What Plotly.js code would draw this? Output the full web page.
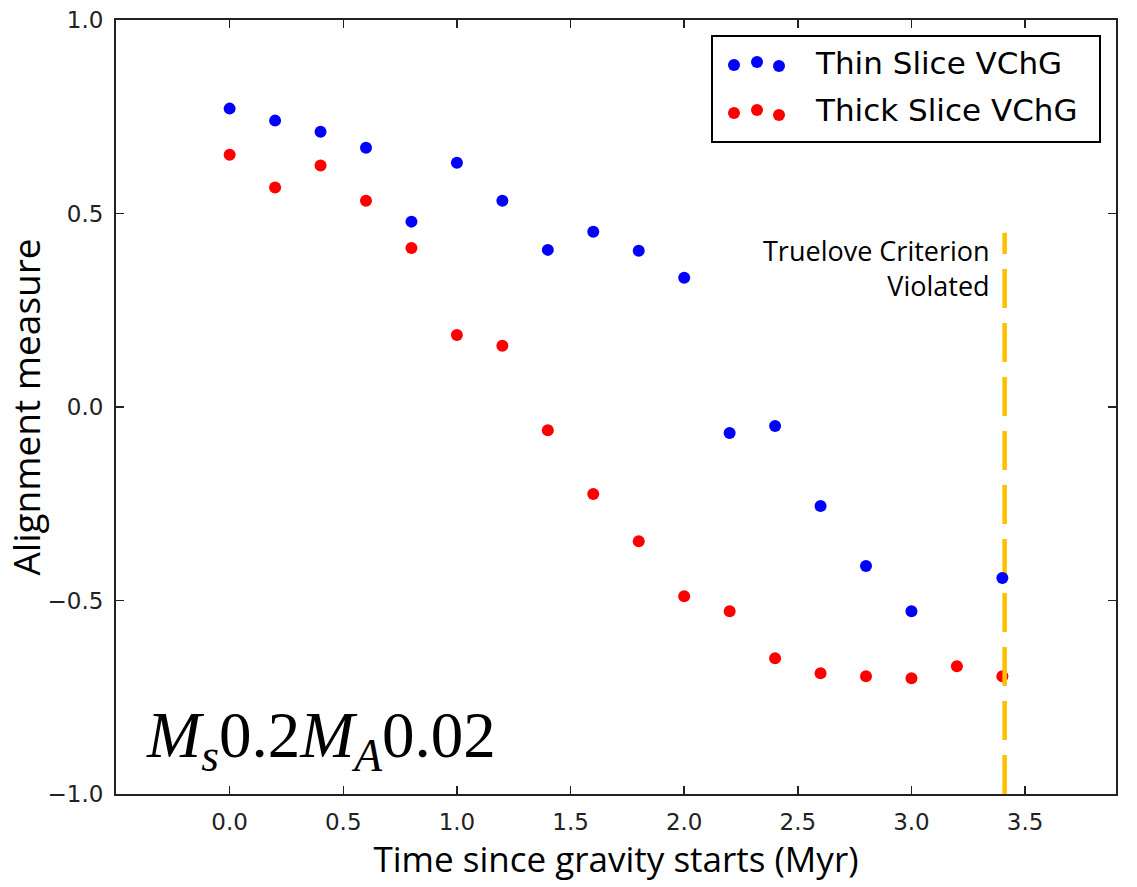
<!DOCTYPE html>
<html>
<head>
<meta charset="utf-8">
<script src="https://cdn.plot.ly/plotly-3.0.1.min.js"></script>
<style>html,body{margin:0;padding:0;background:#fff;}#chart{width:1137px;height:887px;}</style>
</head>
<body>
<div id="chart"></div>
<script>
// Data
var thinX = [0.0, 0.2, 0.4, 0.6, 0.8, 1.0, 1.2, 1.4, 1.6, 1.8, 2.0, 2.2, 2.4, 2.6, 2.8, 3.0, 3.4];
var thinY = [0.771, 0.740, 0.711, 0.670, 0.479, 0.631, 0.533, 0.406, 0.453, 0.404, 0.334, -0.067, -0.049, -0.256, -0.411, -0.528, -0.442];
var thickX = [0.0, 0.2, 0.4, 0.6, 0.8, 1.0, 1.2, 1.4, 1.6, 1.8, 2.0, 2.2, 2.4, 2.6, 2.8, 3.0, 3.2, 3.4];
var thickY = [0.652, 0.567, 0.624, 0.533, 0.411, 0.186, 0.158, -0.060, -0.225, -0.347, -0.489, -0.528, -0.649, -0.688, -0.696, -0.701, -0.670, -0.696];
var criterionX = [3.41, 3.41];
var criterionY = [-1.0, 0.45];
var seriesNames = ["Thin Slice VChG", "Thick Slice VChG"];
var xTicks = [0.0, 0.5, 1.0, 1.5, 2.0, 2.5, 3.0, 3.5];
var yTicks = [-1.0, -0.5, 0.0, 0.5, 1.0];

var W = 1137, H = 887, L = 116, R = 21, T = 20, B = 93;
var pw = W - L - R, ph = H - T - B;
function px(x) { return (x - L) / pw; }
function py(y) { return (H - B - y) / ph; }

var traces = [
  {x: thickX, y: thickY, mode: 'markers', type: 'scatter', name: seriesNames[1],
   marker: {color: '#ff0000', size: 12, line: {width: 0}}},
  {x: criterionX, y: criterionY, mode: 'lines', type: 'scatter', name: 'criterion',
   line: {color: '#ffc000', width: 4.5, dash: '39px,15px'}},
  {x: thinX, y: thinY, mode: 'markers', type: 'scatter', name: seriesNames[0],
   marker: {color: '#0000ff', size: 12, line: {width: 0}}}
];

var legendDots = [
  {c: '#0000ff', x: 734, y: 65}, {c: '#0000ff', x: 757, y: 62}, {c: '#0000ff', x: 779, y: 66},
  {c: '#ff0000', x: 734, y: 113}, {c: '#ff0000', x: 757, y: 110}, {c: '#ff0000', x: 779, y: 115}
];
var shapes = [
  {type: 'rect', xref: 'paper', yref: 'paper', x0: px(712), x1: px(1100), y0: py(142), y1: py(36),
   line: {color: '#000', width: 2}, fillcolor: '#fff', layer: 'above'}
];
legendDots.forEach(function (d) {
  shapes.push({type: 'circle', xref: 'paper', yref: 'paper', xsizemode: 'pixel', ysizemode: 'pixel',
    xanchor: px(d.x), yanchor: py(d.y), x0: -6, x1: 6, y0: -6, y1: 6,
    fillcolor: d.c, line: {width: 0}, layer: 'above'});
});

var annotations = [
  {xref: 'paper', yref: 'paper', x: px(813), y: py(63), xanchor: 'left', yanchor: 'middle',
   text: seriesNames[0], showarrow: false, font: {family: 'DejaVu Sans', size: 31, color: '#000'}},
  {xref: 'paper', yref: 'paper', x: px(813), y: py(110), xanchor: 'left', yanchor: 'middle',
   text: seriesNames[1], showarrow: false, font: {family: 'DejaVu Sans', size: 31, color: '#000'}},
  {xref: 'paper', yref: 'paper', x: px(992), y: py(268), xanchor: 'right', yanchor: 'middle',
   text: 'Truelove Criterion<br>Violated', align: 'right', showarrow: false,
   font: {family: 'Open Sans', size: 27, color: '#000'}},
  {xref: 'paper', yref: 'paper', x: px(144), y: py(740), xanchor: 'left', yanchor: 'middle',
   text: '<i>M</i><sub><i>s</i></sub>0.2<i>M</i><sub><i>A</i></sub>0.02', showarrow: false,
   font: {family: 'Liberation Serif', size: 65, color: '#000'}}
];

var axisCommon = {
  showgrid: false, zeroline: false, showline: true, linecolor: '#222', linewidth: 2,
  mirror: 'allticks', ticks: 'inside', ticklen: 8, tickwidth: 1.5, tickcolor: '#222',
  tickfont: {family: 'DejaVu Sans', size: 23, color: '#222'}, tickformat: '.1f'
};

var layout = {
  width: W, height: H,
  margin: {l: L, r: R, t: T, b: B, pad: 0},
  paper_bgcolor: '#fff', plot_bgcolor: '#fff',
  showlegend: false,
  xaxis: Object.assign({}, axisCommon, {
    range: [-0.5, 3.9], tickvals: xTicks, ticklabelstandoff: 6,
    title: {text: 'Time since gravity starts (Myr)', standoff: 8,
            font: {family: 'Open Sans', size: 35, color: '#000'}}
  }),
  yaxis: Object.assign({}, axisCommon, {
    range: [-1, 1], tickvals: yTicks, ticklabelstandoff: 6,
    title: {text: 'Alignment measure', standoff: 6,
            font: {family: 'Open Sans', size: 37, color: '#000'}}
  }),
  shapes: shapes,
  annotations: annotations
};

Plotly.newPlot('chart', traces, layout, {staticPlot: true, displayModeBar: false});
</script>
</body>
</html>
